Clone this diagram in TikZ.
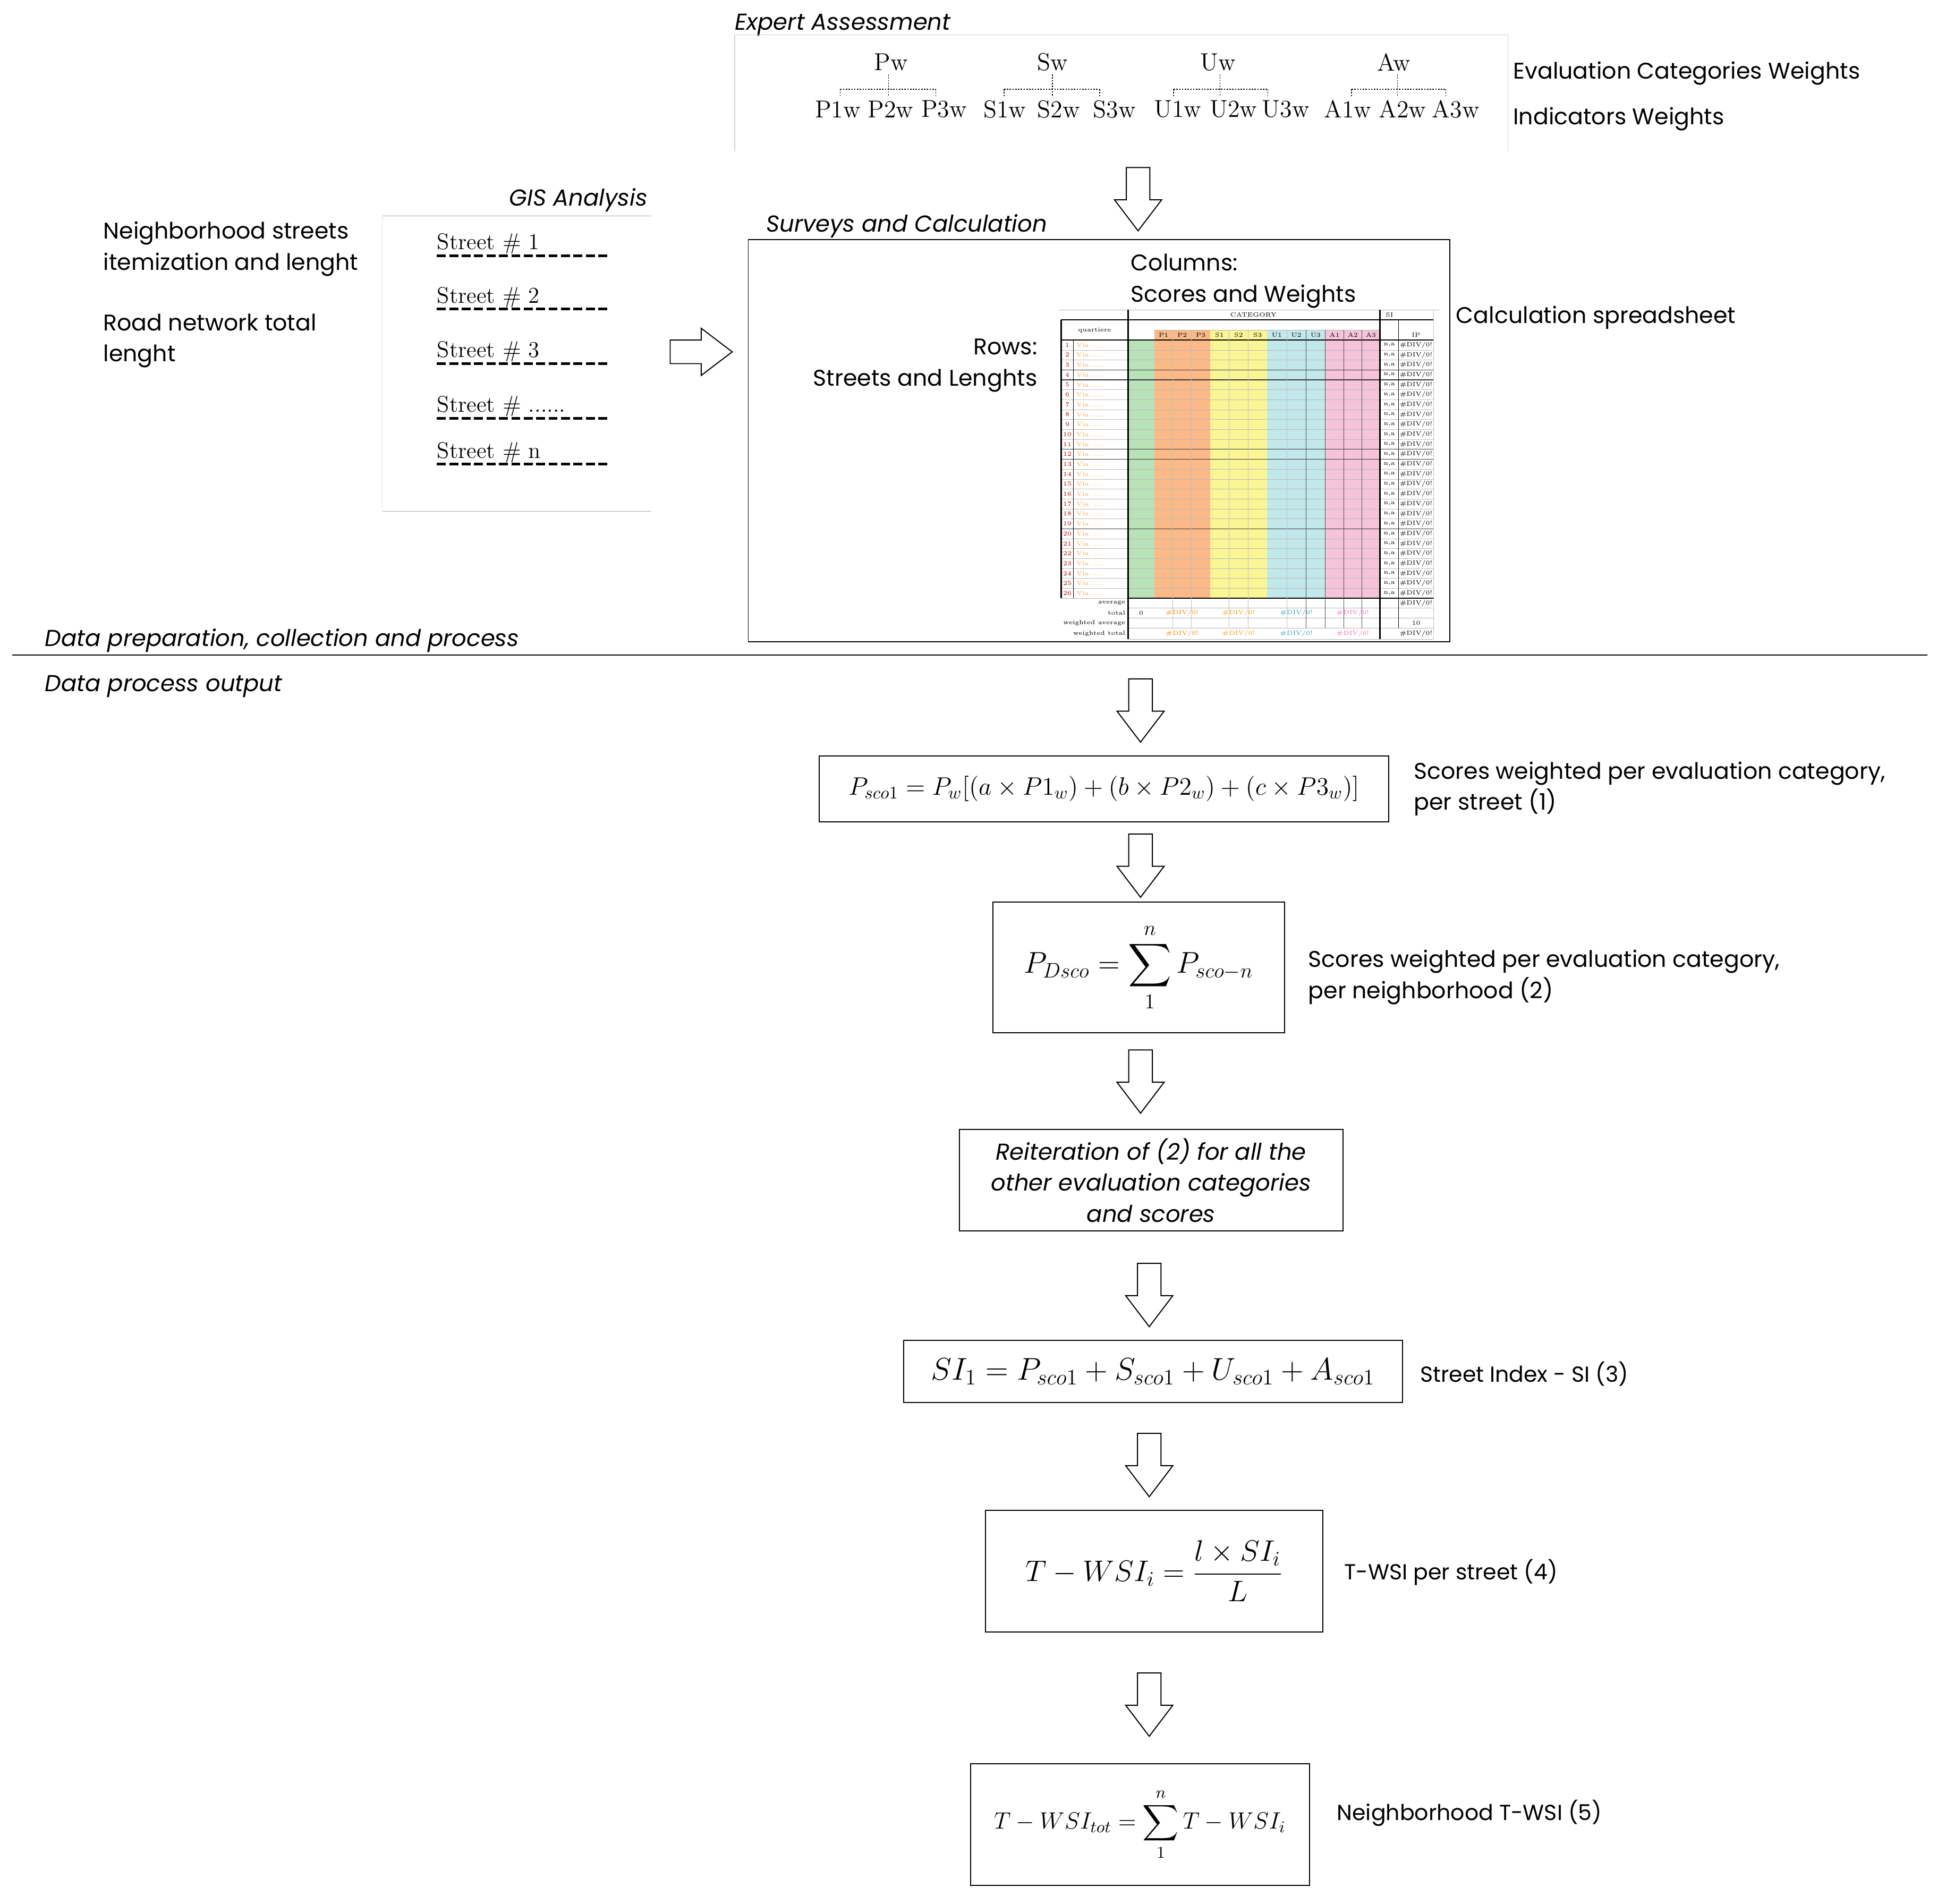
\RequirePackage{fix-cm}
\documentclass[tikz,border=0pt]{standalone}
\usepackage{amsmath}
\usepackage{fontspec}
\newfontfamily\gothic{Poppins}
\usetikzlibrary{calc}
\definecolor{sgreen}{RGB}{185,226,185}
\definecolor{sorange}{RGB}{250,185,135}
\definecolor{syellow}{RGB}{250,246,150}
\definecolor{sblue}{RGB}{195,232,236}
\definecolor{spink}{RGB}{246,196,218}
\tikzset{
  lbl/.style={font=\gothic\fontsize{13}{17.8}\selectfont, align=left, inner sep=0pt, anchor=west, yshift=-0.05cm},
  lbls/.style={lbl, font=\gothic\fontsize{12.5}{17.8}\selectfont},
  ital/.style={font=\gothic\itshape\fontsize{13.2}{17.8}\selectfont, inner sep=0pt, yshift=-0.05cm},
  fbox/.style={draw, line width=0.6pt, inner sep=0pt},
  wlbl/.style={font=\fontsize{14}{16}\selectfont, inner sep=0pt},
  streetlbl/.style={font=\fontsize{13}{15}\selectfont, inner sep=0pt, anchor=base west},
  dashln/.style={line width=1.5pt, dash pattern=on 0.18cm off 0.07cm},
  dotln/.style={line width=0.5pt, dash pattern=on 0.8pt off 0.8pt},
  sstxt/.style={font=\fontsize{3.5}{4}\selectfont, inner sep=0pt},
  darr/.pic={\draw[fill=white, line width=0.6pt] (-9.5,0) -- (9.5,0) -- (9.5,26) -- (19,26) -- (0,51) -- (-19,26) -- (-9.5,26) -- cycle;},
  rarr/.pic={\draw[fill=white, line width=0.6pt] (0,-9.5) -- (25,-9.5) -- (25,-19) -- (50,0) -- (25,19) -- (25,9.5) -- (0,9.5) -- cycle;}
}
\begin{document}
\begin{tikzpicture}[x=0.025cm,y=-0.025cm]
\useasboundingbox (0,0) rectangle (1568,1534);

% ---------- Expert assessment ----------
\node[ital, anchor=west] (expt) at (592,18) {Expert Assessment};
\draw[gray!35, line width=0.5pt] (592,28) -- (1215,28) -- (1215,122);
\draw[gray!35, line width=0.5pt] (592,28) -- (592,122);
\foreach \nm/\cx/\bl/\bc/\br/\la/\lb/\lc/\ta/\tb/\tc in {
  P/718/677/716/754/675/717.6/760.7/P1w/P2w/P3w,
  S/848/809/848/886/809.6/853/898/S1w/S2w/S3w,
  U/981.6/945.6/983/1021.5/949/994/1036/U1w/U2w/U3w,
  A/1123/1089/1126/1165/1086/1130/1173/A1w/A2w/A3w}{
  \node[wlbl] (\nm w) at (\cx,50) {\nm w};
  \node[wlbl] (\nm 1) at (\la,88) {\ta};
  \node[wlbl] (\nm 2) at (\lb,88) {\tb};
  \node[wlbl] (\nm 3) at (\lc,88) {\tc};
  \draw[dotln] (\bc,60) -- (\bc,78);
  \draw[dotln] (\bl,72) -- (\br,72);
  \draw[dotln] (\bl,72) -- (\bl,78);
  \draw[dotln] (\br,72) -- (\br,78);
}
\node[lbl] (ecw) at (1219,57) {Evaluation Categories Weights};
\node[lbl] (iw) at (1219,94) {Indicators Weights};

\pic at (917,135) {darr};

% ---------- GIS analysis ----------
\node[ital, anchor=east] (gis) at (522,159) {GIS Analysis};
\draw[gray!70, line width=0.6pt] (308,174) -- (525,174);
\draw[gray!70, line width=0.6pt] (308,412) -- (525,412);
\draw[gray!20, line width=0.5pt] (308,174) -- (308,412);
\foreach \t/\yy [count=\k] in {1/195,2/238,3/282,{......}/326,n/363}{
  \node[streetlbl] (st\k) at (352,\yy+6) {Street \# \t};
  \draw[dashln] (352,\yy+11) -- (490,\yy+11);
}
\node[lbl] (nsi) at (83,198.5) {Neighborhood streets\\itemization and lenght};
\node[lbl] (rnt) at (83,272.5) {Road network total\\lenght};
\pic at (540,283.5) {rarr};

% ---------- Surveys and calculation ----------
\node[ital, anchor=west] (surv) at (617,180) {Surveys and Calculation};
\node[fbox, minimum width=14.125cm, minimum height=8.1cm] (calc) at (885.5,355) {};
\node[lbl] (cols) at (911,224.5) {Columns:\\Scores and Weights};
\node[lbl, anchor=east, align=right] (rows) at (836,292.5) {Rows:\\Streets and Lenghts};
\node[lbl] (cs) at (1173,254) {Calculation spreadsheet};

% spreadsheet
\begin{scope}
  \fill[sgreen] (909,274) rectangle (930,482);
  \fill[sorange] (930,265.8) rectangle (975,482);
  \fill[syellow] (975,265.8) rectangle (1021,482);
  \fill[sblue] (1021,265.8) rectangle (1068,482);
  \fill[spink] (1068,265.8) rectangle (1112,482);
  % horizontal grid
  \foreach \r in {0,...,26}{ \draw[gray!55, line width=0.15pt] (855,274+8*\r) -- (1155,274+8*\r); }
  \foreach \yy in {298,306,362,370,426}{ \draw[black!80, line width=0.4pt] (855,\yy) -- (1155,\yy); }
  \draw[gray!60, line width=0.2pt] (853,249.6) -- (1160,249.6);
  \draw[black, line width=0.4pt] (855,257.7) -- (1155,257.7);
  \draw[gray!60, line width=0.2pt] (930,265.8) -- (1112,265.8);
  \draw[black, line width=0.5pt] (855,274) -- (1155,274);
  \draw[black, line width=0.8pt] (909,482) -- (1155,482);
  \draw[gray!60, line width=0.2pt] (909,490) -- (1155,490);
  \draw[gray!60, line width=0.2pt] (909,498) -- (1155,498);
  \draw[gray!60, line width=0.2pt] (909,506) -- (1155,506);
  \draw[gray!60, line width=0.2pt] (909,515) -- (1155,515);
  % vertical grid
  \foreach \xx in {945,960,990.3,1005.7,1036.7}{ \draw[gray!50, line width=0.15pt] (\xx,265.8) -- (\xx,506); }
  \foreach \xx in {1052.3,1068,1082.7,1097.3}{ \draw[black!70, line width=0.3pt] (\xx,265.8) -- (\xx,506); }
  \draw[black, line width=0.8pt] (855,257.7) -- (855,482);
  \draw[black, line width=0.3pt] (865,274) -- (865,482);
  \draw[black, line width=0.8pt] (909,249.6) -- (909,515);
  \draw[black, line width=0.8pt] (1112,249.6) -- (1112,515);
  \draw[black, line width=0.3pt] (1127,257.7) -- (1127,506);
  \draw[gray!50, line width=0.2pt] (1155,249.6) -- (1155,515);
  % header texts
  \node[sstxt] (sscat) at (1010,253.6) {CATEGORY};
  \node[sstxt] (ssq) at (882,266) {quartiere};
  \node[sstxt] (sssi) at (1119.5,253.6) {SI};
  \foreach \h/\xx in {P1/937.5,P2/952.5,P3/967.5,S1/982.6,S2/998,S3/1013.3,U1/1028.8,U2/1044.5,U3/1060.1,A1/1075.3,A2/1090,A3/1104.6}{
    \node[sstxt] at (\xx,270) {\h};
  }
  \node[sstxt] (ssip) at (1141,270) {IP};
  \foreach \i in {1,...,26}{
    \node[sstxt, text=red!70!black] at (860,270+8*\i) {\i};
    \node[sstxt, text=orange!70, anchor=west] at (867,270+8*\i) {Via .....};
    \node[sstxt] at (1119.5,270+8*\i) {n,a};
    \node[sstxt] at (1141,270+8*\i) {\#DIV/0!};
  }
  \node[sstxt, anchor=east] (ssav) at (907,486) {average};
  \node[sstxt, anchor=east] (sstot) at (907,494) {total};
  \node[sstxt, anchor=east] (sswa) at (907,502) {weighted average};
  \node[sstxt, anchor=east] (sswt) at (907,510.5) {weighted total};
  \node[sstxt] at (919.5,494) {0};
  \node[sstxt] at (1141,486) {\#DIV/0!};
  \node[sstxt] at (1141,502) {10};
  \node[sstxt] at (1141,510.5) {\#DIV/0!};
  \foreach \cc/\xx in {orange/952.5,orange!80!yellow/998,cyan!80!black/1044.5,magenta!60/1090}{
    \node[sstxt, text=\cc] at (\xx,494) {\#DIV/0!};
    \node[sstxt, text=\cc] at (\xx,510.5) {\#DIV/0!};
  }
\end{scope}

% ---------- divider ----------
\node[ital, anchor=west] (dpcp) at (36,514) {Data preparation, collection and process};
\draw[line width=0.6pt] (10,528) -- (1553,528);
\node[ital, anchor=west] (dpo) at (36,551) {Data process output};

% ---------- output chain ----------
\pic at (919,547) {darr};
\node[fbox, minimum width=11.475cm, minimum height=1.325cm, font=\fontsize{14.5}{18}\selectfont] (b1) at (889.5,635.5)
  {$P_{sco1} = P_{w}[(a\times P1_{w}) + (b\times P2_{w}) + (c\times P3_{w})]$};
\node[lbl] (t1) at (1139,633.5) {Scores weighted per evaluation category,\\per street (1)};

\pic at (919,672) {darr};
\node[fbox, minimum width=5.875cm, minimum height=2.625cm, font=\fontsize{17.2}{20}\selectfont] (b2) at (917.5,779.5)
  {$\displaystyle P_{Dsco} = \sum_{1}^{n} P_{sco-n}$};
\node[lbl] (t2) at (1054,785.5) {Scores weighted per evaluation category,\\per neighborhood (2)};

\pic at (919,846) {darr};
\node[fbox, minimum width=7.725cm, minimum height=2.05cm, font=\gothic\itshape\fontsize{13.2}{17.8}\selectfont, align=center] (b3) at (927.5,951)
  {Reiteration of (2) for all the\\other evaluation categories\\and scores};

\pic at (926,1018) {darr};
\node[fbox, minimum width=10.05cm, minimum height=1.25cm, font=\fontsize{18}{21}\selectfont] (b4) at (929,1105)
  {$SI_{1} = P_{sco1} + S_{sco1} + U_{sco1} + A_{sco1}$};
\node[lbls] (t4) at (1144,1105) {Street Index - SI (3)};

\pic at (926,1155) {darr};
\node[fbox, minimum width=6.8cm, minimum height=2.45cm, font=\fontsize{17}{20}\selectfont] (b5) at (930,1266)
  {$\displaystyle T - WSI_{i} = \frac{l\times SI_{i}}{L}$};
\node[lbls] (t5) at (1083,1265) {T-WSI per street (4)};

\pic at (926,1348) {darr};
\node[fbox, minimum width=6.825cm, minimum height=2.45cm, font=\fontsize{13.5}{16}\selectfont] (b6) at (918.5,1470)
  {$\displaystyle T - WSI_{tot} = \sum_{1}^{n} T - WSI_{i}$};
\node[lbls] (t6) at (1077,1459) {Neighborhood T-WSI (5)};
\end{tikzpicture}
\end{document}
